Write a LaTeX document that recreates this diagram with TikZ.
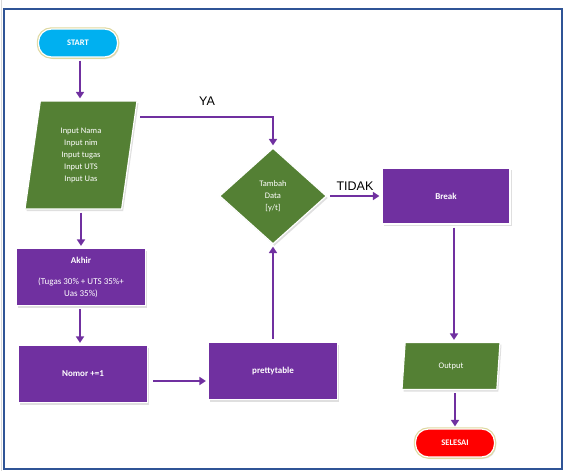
\documentclass[tikz,border=0pt]{standalone}
\usepackage{fontspec}
\setmainfont{Carlito}
\newfontfamily\arialfont{Liberation Sans}
\usetikzlibrary{shapes.geometric,arrows.meta,shadows}
\definecolor{fcpurple}{RGB}{112,48,160}
\definecolor{fcgreen}{RGB}{84,128,52}
\definecolor{fcblue}{RGB}{0,176,240}
\definecolor{fcred}{RGB}{255,0,0}
\definecolor{fcframe}{RGB}{47,84,150}
\definecolor{fcglow}{RGB}{222,216,160}
\tikzset{fcshape/.style={draw=white,line width=1.2pt,text=white,align=center,
    drop shadow={shadow xshift=1.5pt,shadow yshift=-2pt,opacity=0.25}}}
\tikzset{fcproc/.style={fcshape,rectangle,fill=fcpurple,minimum width=129pt,minimum height=57pt,
    font=\fontsize{9}{12}\selectfont\bfseries}}
\tikzset{fcio/.style={fcshape,trapezium,fill=fcgreen,trapezium stretches body,
    font=\fontsize{8.5}{12}\selectfont}}
\tikzset{fcdec/.style={fcshape,diamond,fill=fcgreen,aspect=1.1,inner sep=1pt,
    minimum width=107pt,minimum height=96pt,font=\fontsize{8.5}{12}\selectfont}}
\tikzset{fcterm/.style={fcshape,rectangle,rounded corners=13pt,minimum width=79pt,minimum height=28pt,
    font=\fontsize{8.5}{10}\selectfont\bfseries,preaction={draw=fcglow,line width=3.5pt}}}
\tikzset{fcflow/.style={draw=fcpurple,line width=2.4pt,-{Triangle[width=8pt,length=6.5pt]},
    shorten >=2pt,shorten <=3pt}}

\begin{document}
\begin{tikzpicture}[x=1pt,y=-1pt]
  \useasboundingbox (0,0) rectangle (569,471);
  \draw [black!15,line width=1pt] (1,0) -- (1,471);
  \draw [fcframe,line width=2.2pt] (4,9) rectangle (562,469);

  \node [fcterm,fill=fcblue] (st) at (78,43) {START};
  \node [fcio,trapezium left angle=76,trapezium right angle=104,
    minimum width=112pt,minimum height=108pt] (inp) at (81,155)
    {Input Nama\\Input nim\\Input tugas\\Input UTS\\Input Uas};
  \node [fcdec] (dc) at (273,196) {Tambah\\Data\\{[y/t]}};
  \node [fcproc,minimum width=128pt,minimum height=56pt] (br) at (446,196) {Break};
  \node [fcproc] (ak) at (81,277)
    {Akhir\\[9pt]\mdseries(Tugas 30\% + UTS 35\%+\\\mdseries Uas 35\%)};
  \node [fcproc] (nm) at (83,374) {Nomor +=1};
  \node [fcproc] (pt) at (273,371) {prettytable};
  \node [fcio,trapezium left angle=77,trapezium right angle=103,
    minimum width=98pt,minimum height=47pt] (ou) at (451,366) {Output};
  \node [fcterm,fill=fcred] (se) at (455,443) {SELESAI};

  \coordinate (ya) at (137,117);
  \coordinate (nmr) at (150,381);

  \draw [fcflow] (st.south -| 80,0) -- (inp.north -| 80,0);
  \draw [fcflow] (ya) -| (dc.north);
  \draw [fcflow] (dc.east) -- (br.west);
  \draw [fcflow] (inp.south -| 81,0) -- (ak.north -| 81,0);
  \draw [fcflow] (ak.south -| 80,0) -- (nm.north -| 80,0);
  \draw [fcflow] (nmr) -- (pt.west |- nmr);
  \draw [fcflow] (pt.north) -- (dc.south);
  \draw [fcflow] (br.south -| 454,0) -- (ou.north -| 454,0);
  \draw [fcflow] (ou.south -| 455,0) -- (se.north);

  \node [font=\arialfont\fontsize{12.5}{14}\selectfont] at (207,101) {YA};
  \node [font=\arialfont\fontsize{12.5}{14}\selectfont] at (355,186) {TIDAK};
\end{tikzpicture}
\end{document}
